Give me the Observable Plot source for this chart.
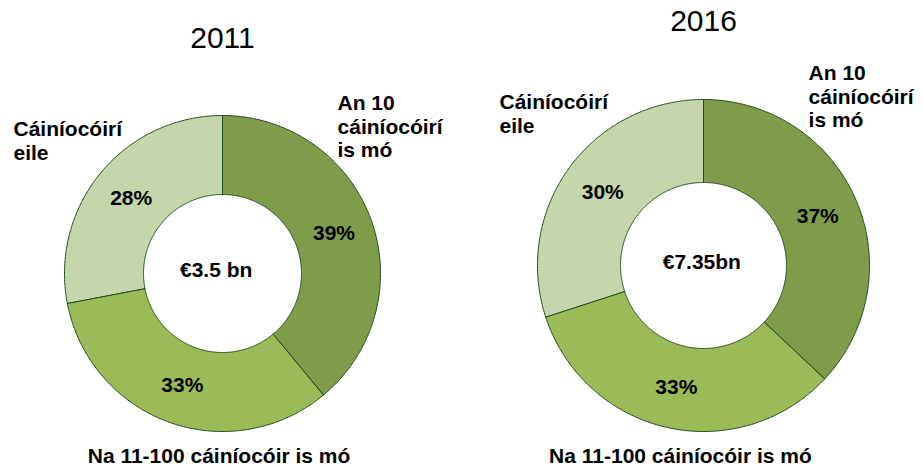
<!DOCTYPE html>
<html>
<head>
<meta charset="utf-8">
<script src="https://cdn.jsdelivr.net/npm/d3@7"></script>
<script src="https://cdn.jsdelivr.net/npm/@observablehq/plot@0.6"></script>
<style>
  body { margin: 0; background: #fff; }
  #chart { position: relative; width: 923px; height: 468px; overflow: hidden; }
  #chart svg { position: absolute; top: 0; }
</style>
</head>
<body>
<div id="chart"></div>
<script>
// ---- data ----
const categories = ["An 10 cáiníocóirí is mó", "Na 11-100 cáiníocóir is mó", "Cáiníocóirí eile"];
const categoryLabels = ["An 10\ncáiníocóirí\nis mó", "Na 11-100 cáiníocóir is mó", "Cáiníocóirí\neile"];
const years = ["2011", "2016"];
const shares2011 = [39, 33, 28];
const shares2016 = [37, 33, 30];
const totals = ["€3.5 bn", "€7.35bn"];

// ---- styles / layout (positions in units of the outer radius, y up) ----
const colors = ["#7f9c4a", "#9bbb59", "#c5d6ac"];
const edgeColor = "#1f4a1c";
const innerRatio = 0.5;
const font = "'Liberation Sans', Arial, sans-serif";

const panels = [
  { year: years[0], shares: shares2011, total: totals[0], left: 0, width: 462, cx: 222, cy: 273, r: 158,
    title: [0, 1.49], center: [-0.04, 0.02],
    labels: [[0.728, 1.139, "start"], [-0.022, -1.095, "middle"], [-1.323, 0.975, "start"]] },
  { year: years[1], shares: shares2016, total: totals[1], left: 462, width: 461, cx: 241, cy: 265, r: 166,
    title: [0, 1.47], center: [-0.01, 0.02],
    labels: [[0.633, 1.217, "start"], [-0.139, -1.09, "middle"], [-1.229, 1.042, "start"]] }
];

function slices(shares) {
  const total = d3.sum(shares);
  const pts = [], cents = [];
  let acc = 0;
  shares.forEach((v, i) => {
    const a0 = acc / total * 2 * Math.PI;
    const a1 = (acc + v) / total * 2 * Math.PI;
    acc += v;
    const n = Math.max(2, Math.ceil((a1 - a0) / (Math.PI / 360)));
    for (let k = 0; k <= n; k++) {
      const a = a0 + (a1 - a0) * k / n;
      pts.push({ cat: categories[i], x: Math.sin(a), y: Math.cos(a) });
    }
    for (let k = n; k >= 0; k--) {
      const a = a0 + (a1 - a0) * k / n;
      pts.push({ cat: categories[i], x: innerRatio * Math.sin(a), y: innerRatio * Math.cos(a) });
    }
    const am = (a0 + a1) / 2, rm = (1 + innerRatio) / 2;
    cents.push({ label: v + "%", x: rm * Math.sin(am), y: rm * Math.cos(am) });
  });
  return { pts, cents };
}

const container = document.getElementById("chart");
panels.forEach(p => {
  const { pts, cents } = slices(p.shares);
  const labelData = categoryLabels.map((t, i) => ({ text: t, x: p.labels[i][0], y: p.labels[i][1], anchor: p.labels[i][2] }));
  const svg = Plot.plot({
    width: p.width,
    height: 468,
    margin: 0,
    axis: null,
    style: { fontFamily: font, background: "transparent", overflow: "visible" },
    x: { domain: [-1, 1], range: [p.cx - p.r, p.cx + p.r] },
    y: { domain: [-1, 1], range: [p.cy + p.r, p.cy - p.r] },
    color: { domain: categories, range: colors },
    marks: [
      Plot.line(pts, { x: "x", y: "y", z: "cat", fill: "cat", stroke: edgeColor, strokeWidth: 1, curve: "linear-closed" }),
      Plot.text(cents, { x: "x", y: "y", text: "label", fontSize: 21, fontWeight: "bold", fill: "#000" }),
      Plot.text([{ t: p.total, x: p.center[0], y: p.center[1] }], { x: "x", y: "y", text: "t", fontSize: 21, fontWeight: "bold", fill: "#000" }),
      Plot.text([{ t: p.year, x: p.title[0], y: p.title[1] }], { x: "x", y: "y", text: "t", fontSize: 30, fill: "#000" }),
      Plot.text(labelData.filter(d => d.anchor === "start"), { x: "x", y: "y", text: "text", textAnchor: "start", lineAnchor: "top", lineHeight: 1.12, fontSize: 21, fontWeight: "bold", fill: "#000" }),
      Plot.text(labelData.filter(d => d.anchor === "middle"), { x: "x", y: "y", text: "text", textAnchor: "middle", lineAnchor: "top", lineHeight: 1.12, fontSize: 21, fontWeight: "bold", fill: "#000" })
    ]
  });
  svg.style.left = p.left + "px";
  container.appendChild(svg);
});
</script>
</body>
</html>
